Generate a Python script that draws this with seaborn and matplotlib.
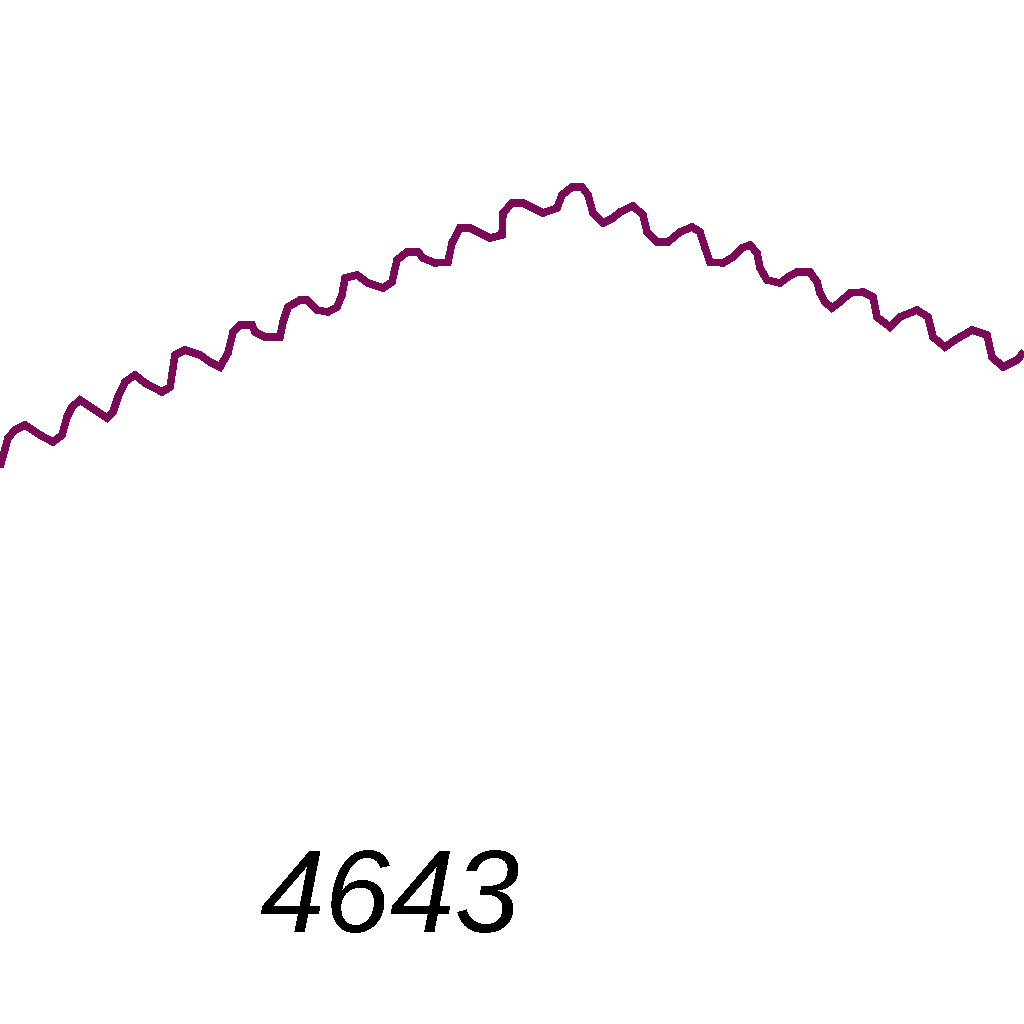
import matplotlib
matplotlib.use("Agg")
import matplotlib.pyplot as plt
import seaborn as sns
import pandas as pd

# Wavy line: x position and pixel row from top (converted to height below)
line_x = [0, 8, 15, 25, 40, 53, 62, 67, 72, 80, 92, 107, 113, 118, 125, 135, 145, 162, 170,
          175, 185, 200, 210, 220, 228, 233, 240, 252, 255, 265, 280, 283, 288, 300, 307, 317,
          328, 337, 342, 345, 357, 368, 383, 392, 397, 407, 418, 423, 435, 448, 452, 460, 470,
          480, 490, 502, 503, 512, 523, 533, 543, 557, 562, 572, 582, 588, 593, 603, 613, 620,
          633, 643, 647, 657, 668, 680, 692, 700, 705, 710, 723, 733, 742, 750, 757, 760, 767,
          780, 788, 797, 810, 817, 820, 825, 832, 840, 850, 863, 873, 877, 890, 900, 917, 928,
          933, 945, 955, 972, 987, 992, 1003, 1017, 1024]
line_y_px = [467, 438, 430, 425, 435, 442, 435, 417, 407, 400, 408, 418, 412, 397, 382, 375, 383, 392, 387,
             355, 350, 355, 362, 367, 353, 332, 325, 325, 332, 337, 337, 322, 307, 300, 300, 310,
             312, 307, 295, 278, 275, 283, 288, 282, 260, 252, 252, 258, 263, 262, 243, 228, 228,
             233, 238, 235, 213, 203, 203, 208, 213, 208, 195, 187, 187, 195, 213, 223, 218, 212,
             206, 215, 232, 242, 242, 232, 227, 232, 248, 262, 263, 257, 248, 245, 253, 268, 280,
             283, 277, 272, 272, 282, 293, 302, 308, 302, 293, 292, 297, 317, 327, 317, 310, 317,
             337, 347, 340, 330, 335, 357, 367, 360, 352]
line_y = [1024 - v for v in line_y_px]

label_text = "4643"

plt.rcParams["text.antialiased"] = False
fig = plt.figure(figsize=(10.24, 10.24), dpi=100)
ax = fig.add_axes([0, 0, 1, 1])
df = pd.DataFrame({"x": line_x, "y": line_y})
sns.lineplot(data=df, x="x", y="y", ax=ax, sort=False, color="#7a0a58",
             linewidth=4.6, antialiased=False, solid_joinstyle="miter", solid_capstyle="butt")
ax.set_xlim(0, 1024)
ax.set_ylim(0, 1024)
ax.axis("off")
ax.text(390, 1024 - 932, label_text, ha="center", va="baseline", fontsize=84,
        family="Liberation Sans", style="italic", color="black")
fig.savefig("out.png", dpi=100, facecolor="white")
